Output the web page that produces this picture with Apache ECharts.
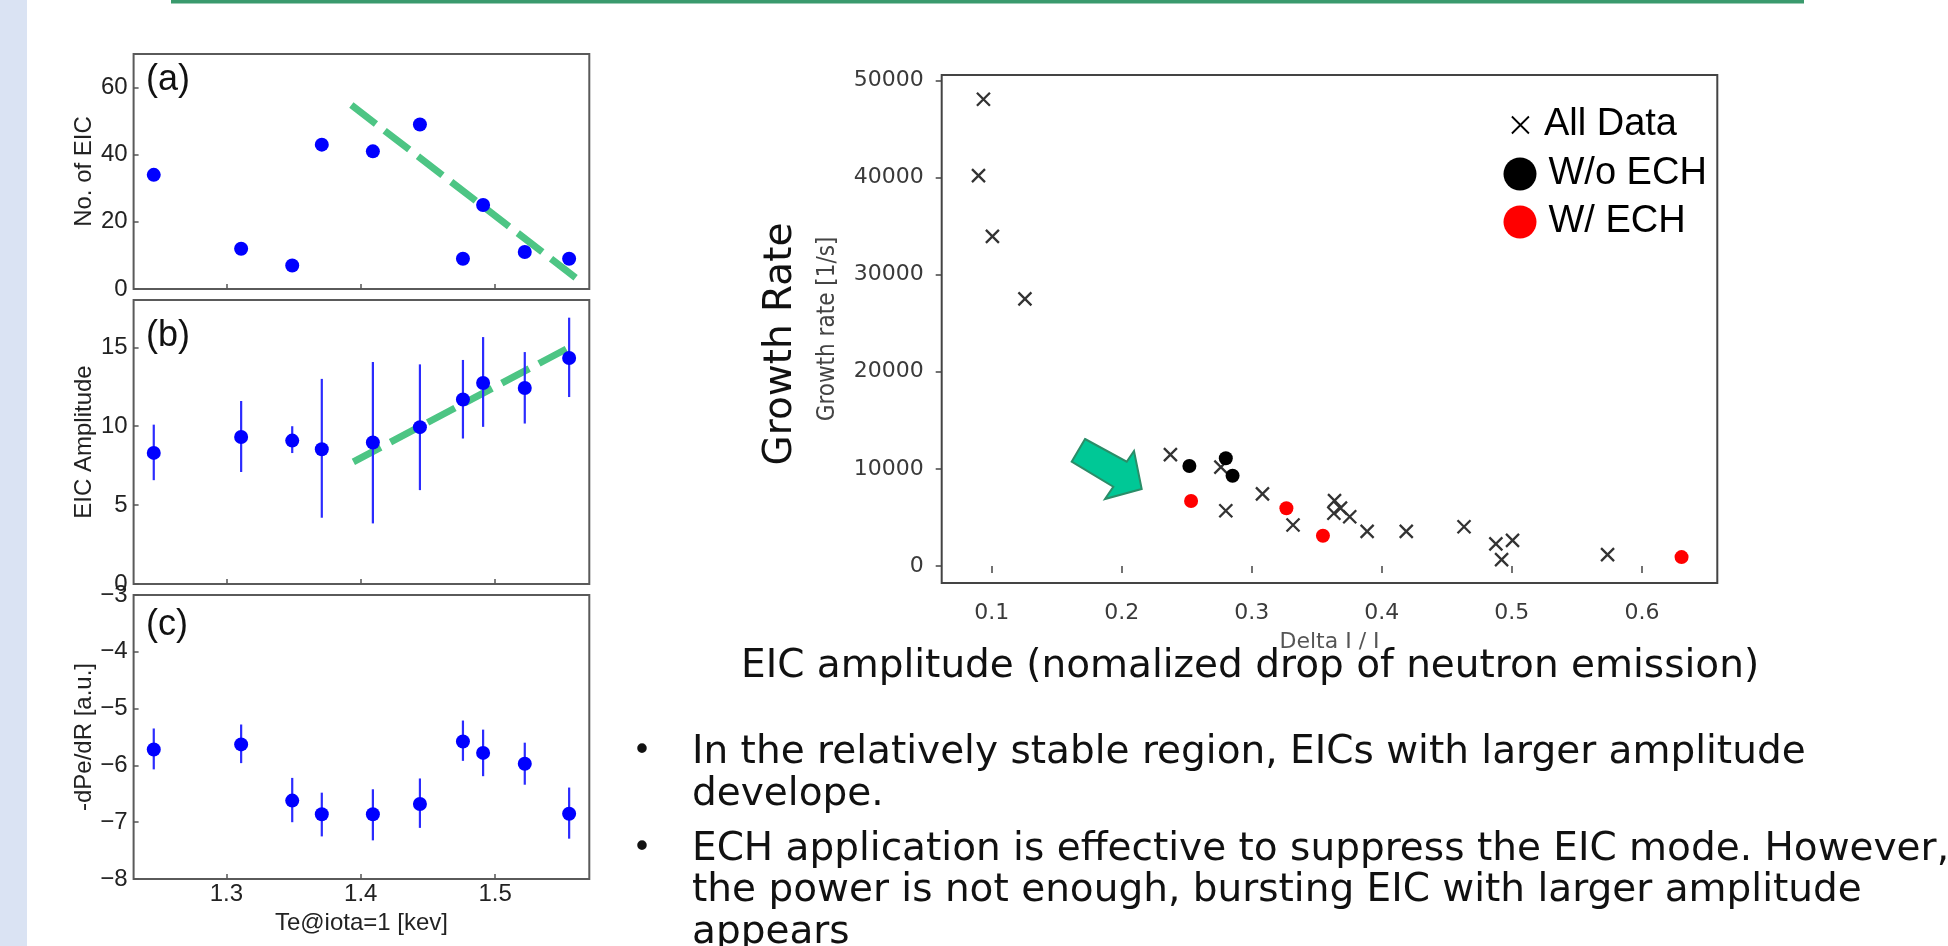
<!DOCTYPE html>
<html><head><meta charset="utf-8">
<script src="https://cdn.jsdelivr.net/npm/echarts@6/dist/echarts.min.js"></script>
<style>html,body{margin:0;padding:0;background:#fff}#c{width:1948px;height:946px}</style>
</head><body><div id="c"></div>
<script>
// ---- left panels data (Te@iota=1 [keV]) ----
const teValues   = [1.246, 1.311, 1.349, 1.371, 1.409, 1.444, 1.476, 1.491, 1.522, 1.555];
const eicCount   = [34, 12, 7, 43, 41, 49, 9, 25, 11, 9];
const eicAmp     = [8.31, 9.32, 9.09, 8.54, 8.97, 9.94, 11.69, 12.74, 12.42, 14.32];
const eicAmpLow  = [6.58, 7.10, 8.30, 4.20, 3.84, 5.95, 9.22, 9.96, 10.17, 11.85];
const eicAmpHigh = [10.10, 11.60, 10.00, 13.00, 14.07, 13.92, 14.20, 15.65, 14.70, 16.88];
const dpe        = [-5.72, -5.63, -6.62, -6.86, -6.86, -6.68, -5.58, -5.78, -5.97, -6.85];
const dpeLow     = [-6.07, -5.96, -7.00, -7.25, -7.32, -7.10, -5.92, -6.19, -6.34, -7.29];
const dpeHigh    = [-5.35, -5.28, -6.22, -6.48, -6.42, -6.23, -5.21, -5.37, -5.60, -6.39];
const trendA     = [[1.393, 54.8], [1.562, 2.7]];
const trendB     = [[1.3945, 7.74], [1.5574, 15.1]];
const teTicks    = [1.3, 1.4, 1.5];
const countTicks = [0, 20, 40, 60];
const ampTicks   = [0, 5, 10, 15];
const dpeTicks   = [-8, -7, -6, -5, -4, -3];

// ---- right scatter data (Delta I / I vs growth rate) ----
const allDelta = [0.0936, 0.0898, 0.1005, 0.1255, 0.2374, 0.2762, 0.2800, 0.3082, 0.3317, 0.3636, 0.3682, 0.3631, 0.3753, 0.3887, 0.4188, 0.4632, 0.4877, 0.5005, 0.4921, 0.5736];
const allRate  = [48064, 40195, 33944, 27507, 11473, 10185, 5695, 7426, 4222, 6725, 5953, 5437, 5067, 3563, 3563, 4037, 2276, 2636, 659, 1174];
const woDelta  = [0.252, 0.280, 0.2852];
const woRate   = [10299, 11102, 9300];
const wDelta   = [0.2533, 0.3266, 0.3547, 0.6305];
const wRate    = [6694, 5953, 3120, 917];
const deltaTicks = [0.1, 0.2, 0.3, 0.4, 0.5, 0.6];
const rateTicks  = [0, 10000, 20000, 30000, 40000, 50000];

const bullet1 = ['In the relatively stable region, EICs with larger amplitude', 'develope.'];
const bullet2 = ['ECH application is effective to suppress the EIC mode. However,', 'the power is not enough, bursting EIC with larger amplitude', 'appears'];

const chart = echarts.init(document.getElementById('c'));
const LF = 'Liberation Sans, Arial, sans-serif';
const DF = 'DejaVu Sans, sans-serif';
const DC = '"DejaVu Sans Condensed", "DejaVu Sans", sans-serif';
const minus = v => String(v).replace('-', '\u2212');

const leftGrids = [
  {left: 133.6, top: 54, width: 455.7, height: 235},
  {left: 133.6, top: 300, width: 455.7, height: 284},
  {left: 133.6, top: 595, width: 455.7, height: 284}
];
const grids = leftGrids.map(g => Object.assign({show: true, borderColor: '#5a5a5a', borderWidth: 2, backgroundColor: 'transparent', outerBoundsMode: 'none', containLabel: false}, g));
grids.push({show: true, left: 941.7, top: 75, width: 775.6, height: 507.9, borderColor: '#444', borderWidth: 2, backgroundColor: 'transparent', outerBoundsMode: 'none', containLabel: false});

const xAxes = [0, 1, 2].map(i => ({
  type: 'value', gridIndex: i, min: 1.231, max: 1.570,
  axisLine: {show: false}, splitLine: {show: false},
  axisTick: {show: true, inside: true, length: 5, lineStyle: {color: '#555', width: 1.5}, customValues: teTicks},
  axisLabel: {show: i === 2, customValues: teTicks, formatter: v => v.toFixed(1), fontSize: 24, fontFamily: LF, color: '#222', margin: 3},
  name: i === 2 ? 'Te@iota=1 [kev]' : '', nameLocation: 'middle', nameGap: 32,
  nameTextStyle: {fontSize: 24, fontFamily: LF, color: '#222'}
}));
xAxes.push({
  type: 'value', gridIndex: 3, min: 0.0615, max: 0.658,
  axisLine: {show: false}, splitLine: {show: false},
  axisTick: {show: true, inside: false, length: 7, lineStyle: {color: '#444', width: 1.5}, customValues: deltaTicks},
  axisLabel: {customValues: deltaTicks, formatter: v => v.toFixed(1), fontSize: 22, fontFamily: DF, color: '#3a3a3a', margin: 19},
  name: 'Delta I / I', nameLocation: 'middle', nameGap: 48,
  nameTextStyle: {fontSize: 22, fontFamily: DF, color: '#555'}
});

function leftY(i, min, max, ticks, name) {
  return {
    type: 'value', gridIndex: i, min: min, max: max,
    axisLine: {show: false}, splitLine: {show: false},
    axisTick: {show: true, inside: true, length: 5, lineStyle: {color: '#555', width: 1.5}, customValues: ticks},
    axisLabel: {customValues: ticks, formatter: minus, fontSize: 24, fontFamily: LF, color: '#222', margin: 6},
    name: name, nameLocation: 'middle', nameGap: 37, nameRotate: 90,
    nameTextStyle: {fontSize: 24, fontFamily: LF, color: '#222'}
  };
}
const yAxes = [
  leftY(0, 0, 70, countTicks, 'No. of EIC'),
  leftY(1, 0, 18, ampTicks, 'EIC Amplitude'),
  leftY(2, -8, -3, dpeTicks, '-dPe/dR [a.u.]'),
  {
    type: 'value', gridIndex: 3, min: -1740, max: 50556,
    axisLine: {show: false}, splitLine: {show: false},
    axisTick: {show: true, inside: false, length: 6, lineStyle: {color: '#444', width: 1.5}, customValues: rateTicks},
    axisLabel: {customValues: rateTicks, formatter: v => String(Math.round(v)), fontSize: 22, fontFamily: DF, color: '#3a3a3a', margin: 18},
    name: 'Growth rate [1/s]', nameLocation: 'middle', nameGap: 102, nameRotate: 90,
    nameTextStyle: {fontSize: 24, fontFamily: DC, color: '#444'}
  }
];

function errSeries(idx, low, high) {
  return {
    type: 'custom', xAxisIndex: idx, yAxisIndex: idx, silent: true, z: 3,
    data: teValues.map((x, i) => [x, low[i], high[i]]),
    encode: {x: 0, y: [1, 2]},
    renderItem: (params, api) => {
      const p1 = api.coord([api.value(0), api.value(1)]);
      const p2 = api.coord([api.value(0), api.value(2)]);
      return {type: 'line', shape: {x1: p1[0], y1: p1[1], x2: p2[0], y2: p2[1]}, style: {stroke: '#2b2bff', lineWidth: 2.2}};
    }
  };
}
function pts(idx, vals) {
  return {type: 'scatter', xAxisIndex: idx, yAxisIndex: idx, silent: true, z: 4,
    symbol: 'circle', symbolSize: 14, itemStyle: {color: '#0000ff', opacity: 1},
    data: teValues.map((x, i) => [x, vals[i]])};
}
function trend(idx, d) {
  return {type: 'line', xAxisIndex: idx, yAxisIndex: idx, silent: true, z: 2, symbol: 'none',
    data: d, lineStyle: {color: '#4dc584', width: 7, type: [31, 11], cap: 'butt'}};
}

const series = [
  trend(0, trendA), pts(0, eicCount),
  trend(1, trendB), errSeries(1, eicAmpLow, eicAmpHigh), pts(1, eicAmp),
  errSeries(2, dpeLow, dpeHigh), pts(2, dpe),
  {name: 'All Data', type: 'scatter', xAxisIndex: 3, yAxisIndex: 3, silent: true, z: 3,
    symbol: 'path://M0,0L10,10M10,0L0,10', symbolSize: 13,
    itemStyle: {color: '#333', borderColor: '#333', borderWidth: 2.3, opacity: 1},
    data: allDelta.map((x, i) => [x, allRate[i]])},
  {name: 'W/o ECH', type: 'scatter', xAxisIndex: 3, yAxisIndex: 3, silent: true, z: 4,
    symbol: 'circle', symbolSize: 14, itemStyle: {color: '#000', opacity: 1},
    data: woDelta.map((x, i) => [x, woRate[i]])},
  {name: 'W/ ECH', type: 'scatter', xAxisIndex: 3, yAxisIndex: 3, silent: true, z: 4,
    symbol: 'circle', symbolSize: 14, itemStyle: {color: '#ff0000', opacity: 1},
    data: wDelta.map((x, i) => [x, wRate[i]])}
];

const legends = [
  {orient: 'vertical', left: 1506, top: 101, itemWidth: 17, itemHeight: 17, selectedMode: false,
    data: [{name: 'All Data', icon: 'path://M0,0L10,10M10,0L0,10', itemStyle: {color: '#000', borderColor: '#000', borderWidth: 1.8, opacity: 1}}],
    textStyle: {fontSize: 38, fontFamily: LF, color: '#000', padding: [0, 0, 0, 10]}},
  {orient: 'vertical', left: 1498.5, top: 150, itemWidth: 33, itemHeight: 33, itemGap: 10, selectedMode: false,
    data: [{name: 'W/o ECH', icon: 'circle', itemStyle: {opacity: 1}}, {name: 'W/ ECH', icon: 'circle', itemStyle: {opacity: 1}}],
    textStyle: {fontSize: 38, fontFamily: LF, color: '#000', padding: [0, 0, 0, 7]}}
];

const graphic = [
  {type: 'rect', left: 0, top: 0, shape: {width: 27, height: 946}, style: {fill: '#dae3f3'}, silent: true},
  {type: 'rect', left: 171, top: 0, shape: {width: 1633, height: 3.5}, style: {fill: '#3a9a6d'}, silent: true},
  {type: 'text', x: 146, y: 80, style: {text: '(a)', font: '36px ' + LF, fill: '#111', verticalAlign: 'middle'}},
  {type: 'text', x: 146, y: 336.5, style: {text: '(b)', font: '36px ' + LF, fill: '#111', verticalAlign: 'middle'}},
  {type: 'text', x: 146, y: 625.5, style: {text: '(c)', font: '36px ' + LF, fill: '#111', verticalAlign: 'middle'}},
  {type: 'text', x: 781, y: 344, rotation: Math.PI / 2, style: {text: 'Growth Rate', font: '39px ' + DF, fill: '#111', align: 'center', verticalAlign: 'middle'}},
  {type: 'polygon', shape: {points: [[1085, 439], [1126.7, 461.7], [1134, 451], [1141.7, 489], [1105, 499], [1113.3, 486.7], [1071.7, 461.7]]},
    style: {fill: '#00c896', stroke: '#2a8d68', lineWidth: 2}, silent: true},
  {type: 'text', x: 741, y: 667, style: {text: 'EIC amplitude (nomalized drop of neutron emission)', font: '39px ' + DF, fill: '#111', verticalAlign: 'middle'}},
  {type: 'text', x: 642, y: 752, style: {text: '\u2022', font: '33px ' + DF, fill: '#111', align: 'center', verticalAlign: 'middle'}},
  {type: 'text', x: 642, y: 849, style: {text: '\u2022', font: '33px ' + DF, fill: '#111', align: 'center', verticalAlign: 'middle'}}
];
const lineY = [753, 795, 850, 891, 933];
bullet1.concat(bullet2).forEach((t, i) => {
  graphic.push({type: 'text', x: 692, y: lineY[i], style: {text: t, font: '39px ' + DF, fill: '#111', verticalAlign: 'middle'}});
});

chart.setOption({
  animation: false,
  backgroundColor: '#fff',
  grid: grids, xAxis: xAxes, yAxis: yAxes, series: series, legend: legends, graphic: graphic
});
</script></body></html>
